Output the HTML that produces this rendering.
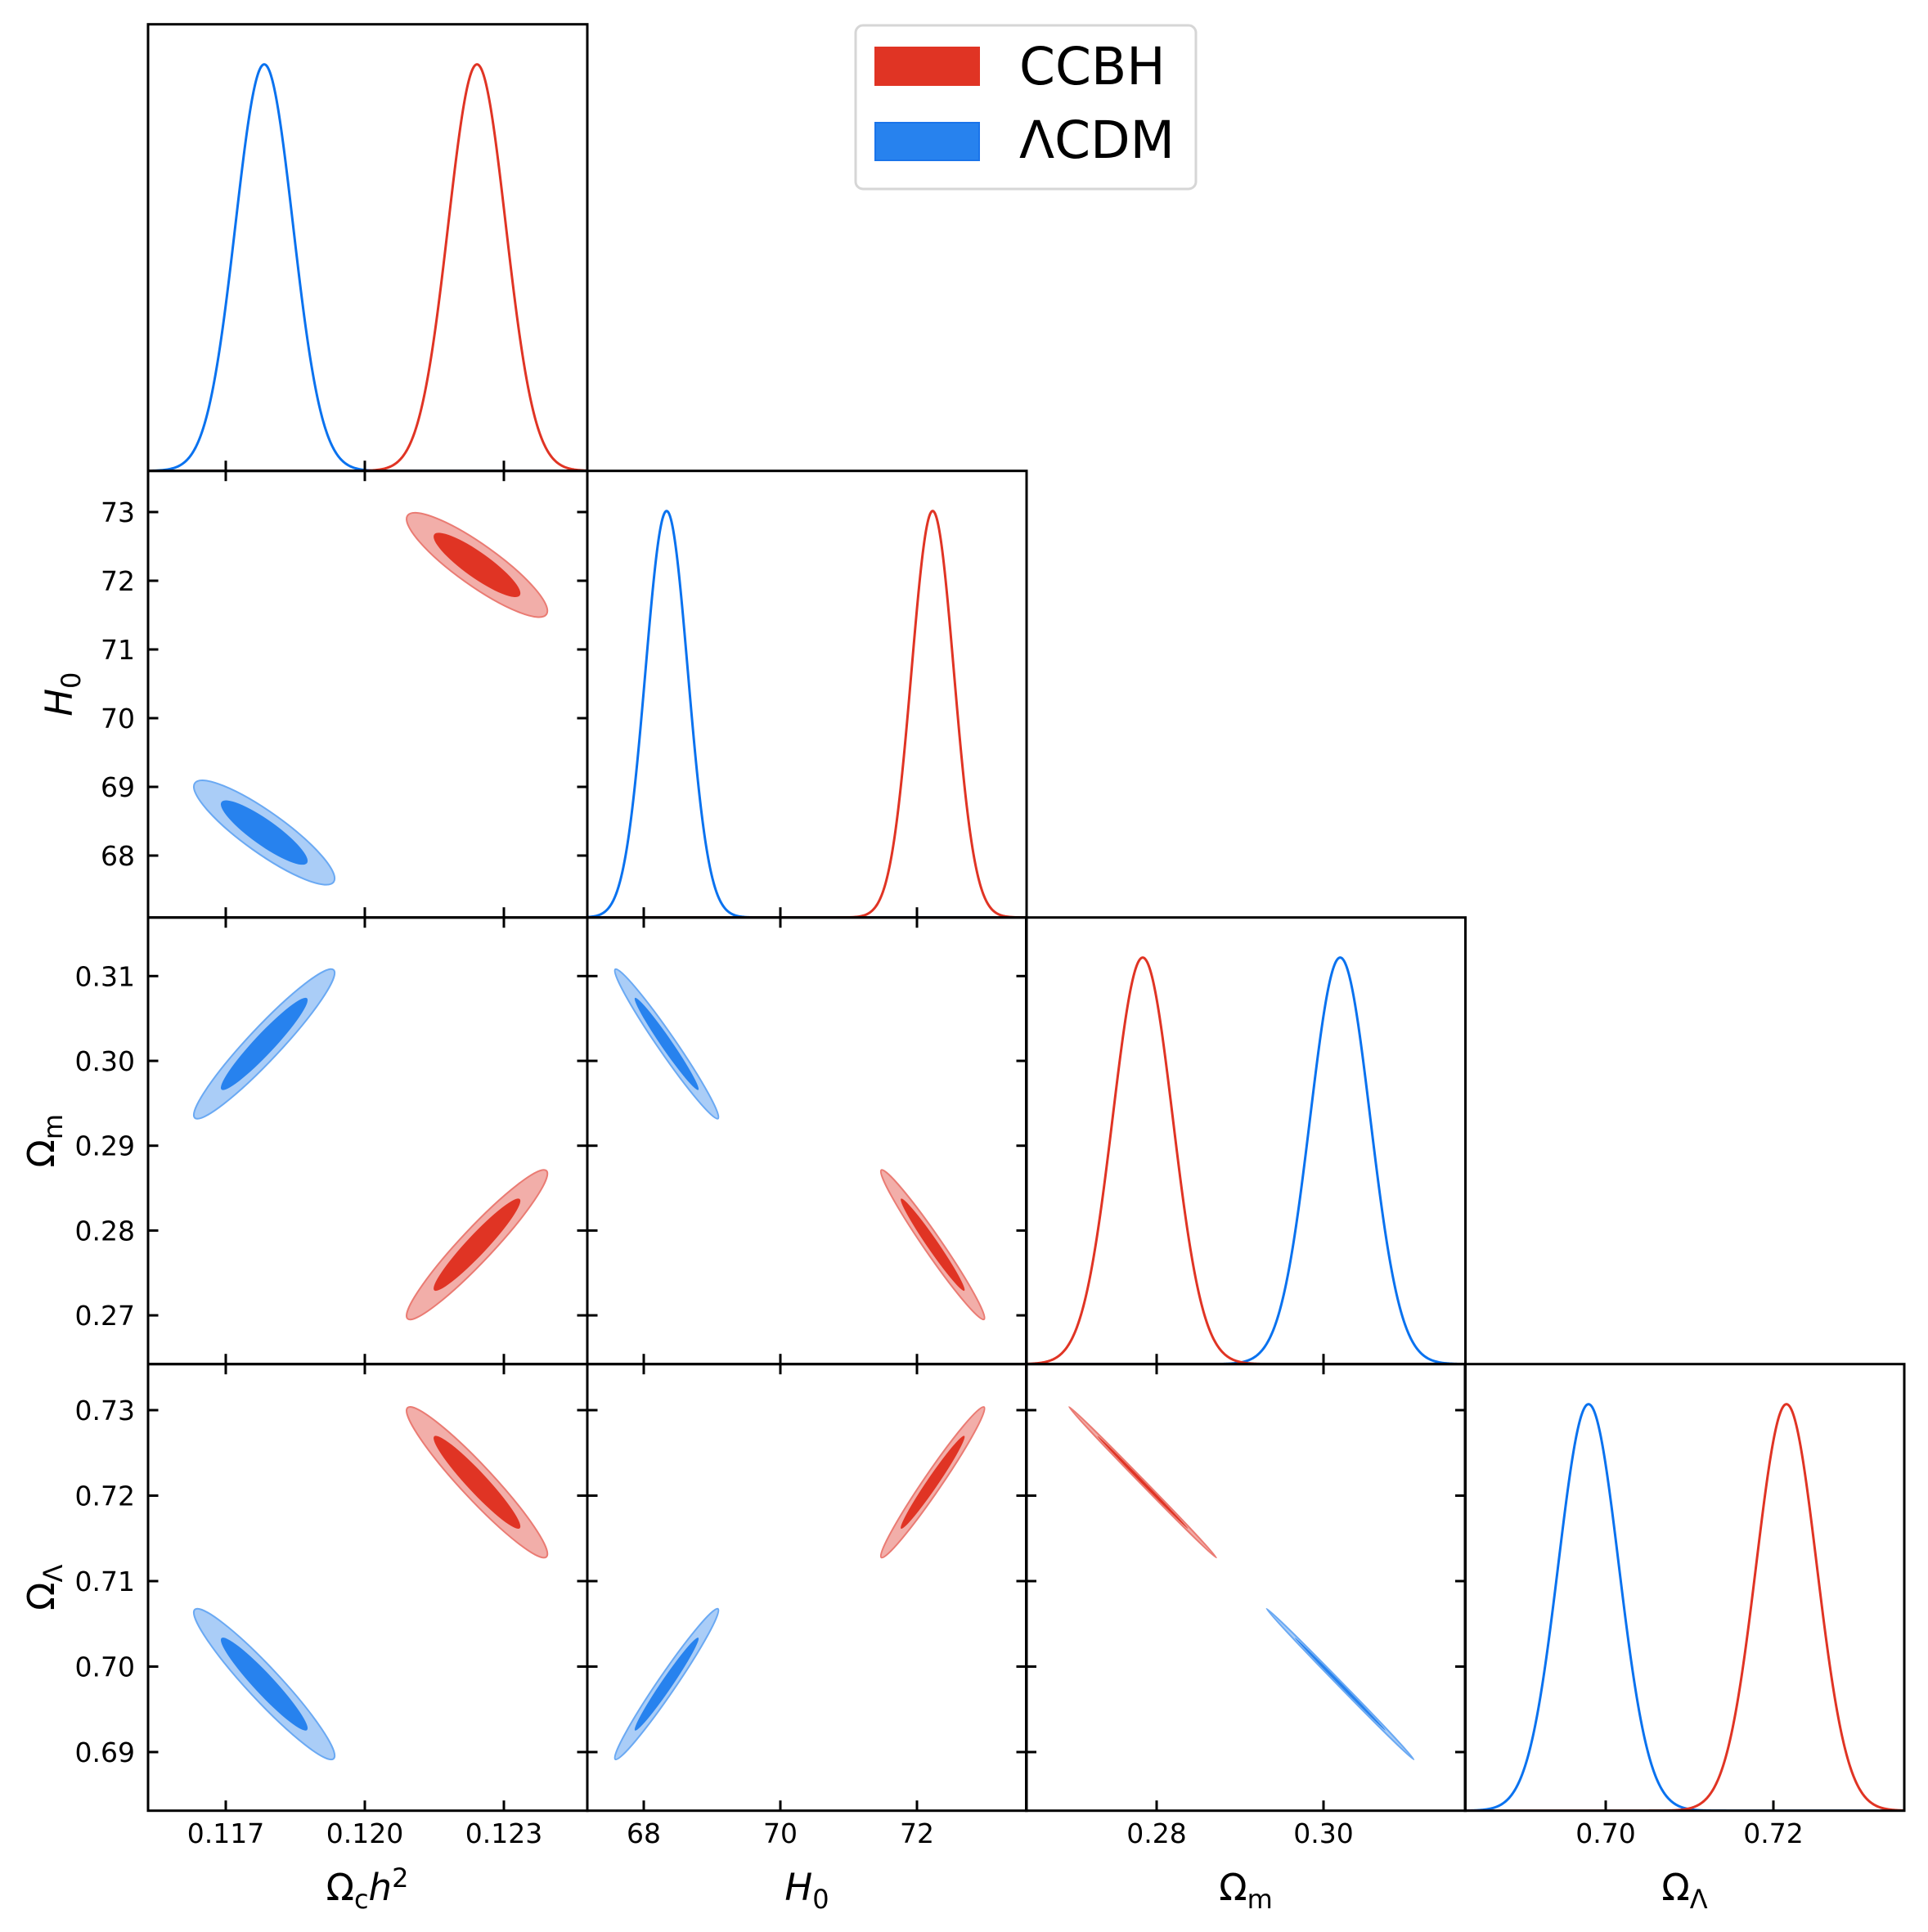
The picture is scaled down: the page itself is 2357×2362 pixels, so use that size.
<!DOCTYPE html>
<html><head><meta charset="utf-8"><style>
html,body{margin:0;padding:0;background:#fff}
svg{display:block;font-family:"DejaVu Sans","Liberation Sans",sans-serif}
</style></head><body>
<svg id="s" width="2357" height="2362" viewBox="0 0 2357 2362" xmlns="http://www.w3.org/2000/svg">
<rect width="2357" height="2362" fill="#fff"/>
<g id="content"></g>
<g id="frames"></g>
<g id="labels" font-size="33" fill="#000"></g>
<rect x="1046" y="31" width="416" height="200" rx="9" ry="9" fill="#fff" stroke="#d6d6d6" stroke-width="3"/>
<rect x="1069" y="57" width="129" height="48" fill="#e03424"/>
<rect x="1070" y="150" width="127" height="46" fill="#2782ee" stroke="#1a74ea" stroke-width="2"/>
<text x="1246" y="103" font-size="63">CCBH</text>
<text x="1246" y="193" font-size="63">ΛCDM</text>
</svg>
<script>
var NS="http://www.w3.org/2000/svg";
function el(tag,attrs,parent,txt){var e=document.createElementNS(NS,tag);for(var k in attrs)e.setAttribute(k,attrs[k]);if(txt!==undefined)e.textContent=txt;parent.appendChild(e);return e;}
var content=document.getElementById('content'),frames=document.getElementById('frames'),labels=document.getElementById('labels'),svg=document.getElementById('s');
var colL=[181,718,1254.5,1791],W=537,rowT=[29.7,575.7,1121.7,1667.7],H=546;
var colX=[function(v){return 446+(v-0.120)*56667},function(v){return 954+(v-70)*83.5},function(v){return 1414+(v-0.28)*10200},function(v){return 1963+(v-0.70)*10250}];
var colS=[56667,83.5,10200,10250];
var rowY=[null,function(v){return 710-(v-72)*84},function(v){return 1297-(v-0.30)*10370},function(v){return 1724-(v-0.73)*10450}];
var rowS=[0,84,10370,10450];
var mean={red:[0.12242,72.23,0.27833,0.72156],blue:[0.11783,68.335,0.3020,0.69795]};
var sig=[0.00062,0.31,0.0036,0.0036];
var rho={"0,1":-0.88,"0,2":0.95,"1,2":-0.978,"0,3":-0.95,"1,3":0.978,"2,3":-0.999};
var col={red:{line:"#e03424",inner:"#e03424",outer:"#f2aea9",edge:"#ea7b73"},blue:{line:"#0a72ef",inner:"#2782ee",outer:"#aacdf7",edge:"#6aa9f3"}};
var defs=el('defs',{},svg);
for(var i=0;i<4;i++)for(var j=i;j<4;j++){var cp=el('clipPath',{id:'c'+i+'_'+j},defs);el('rect',{x:colL[i],y:rowT[j],width:W,height:H},cp);}
for(var i=0;i<4;i++){
 var g=el('g',{'clip-path':'url(#c'+i+'_'+i+')'},content);
 ['blue','red'].forEach(function(m){
  var mu=colX[i](mean[m][i]),s=sig[i]*colS[i],base=rowT[i]+H,pk=rowT[i]+49,d='';
  for(var x=colL[i];x<=colL[i]+W;x+=1){var y=base-(base-pk)*Math.exp(-0.5*Math.pow((x-mu)/s,2));d+=(d?'L':'M')+x.toFixed(1)+' '+y.toFixed(2);}
  el('path',{d:d,fill:'none',stroke:col[m].line,'stroke-width':3},g);
 });
}
for(var i=0;i<4;i++)for(var j=i+1;j<4;j++){
 var g=el('g',{'clip-path':'url(#c'+i+'_'+j+')'},content);
 ['red','blue'].forEach(function(m){
  var cx=colX[i](mean[m][i]),cy=rowY[j](mean[m][j]);
  var sx=sig[i]*colS[i],sy=sig[j]*rowS[j],r=-rho[i+','+j];
  var a=sx*sx,b=sy*sy,c=r*sx*sy;
  var th=0.5*Math.atan2(2*c,a-b);
  var q=Math.sqrt((a-b)*(a-b)/4+c*c);
  var l1=(a+b)/2+q,l2=Math.max((a+b)/2-q,0.3);
  var deg=th*180/Math.PI;
  [[2.45,col[m].outer,col[m].edge],[1.51,col[m].inner,'none']].forEach(function(L){
   el('ellipse',{cx:cx,cy:cy,rx:L[0]*Math.sqrt(l1),ry:L[0]*Math.sqrt(l2),transform:'rotate('+deg+' '+cx+' '+cy+')',fill:L[1],stroke:L[2],'stroke-width':2},g);
  });
 });
}
var colT=[[0.117,0.120,0.123],[68,70,72],[0.28,0.30],[0.70,0.72]];
var colLab=[["0.117","0.120","0.123"],["68","70","72"],["0.28","0.30"],["0.70","0.72"]];
var rowTk=[null,[68,69,70,71,72,73],[0.27,0.28,0.29,0.30,0.31],[0.69,0.70,0.71,0.72,0.73]];
var rowLab=[null,["68","69","70","71","72","73"],["0.27","0.28","0.29","0.30","0.31"],["0.69","0.70","0.71","0.72","0.73"]];
var TL=12.5;
for(var i=0;i<4;i++)for(var j=i;j<4;j++){
 var x0=colL[i],y0=rowT[j],x1=x0+W,y1=y0+H;
 colT[i].forEach(function(v){var x=colX[i](v);
  el('line',{x1:x,y1:y1,x2:x,y2:y1-TL,stroke:'#000','stroke-width':3},frames);
  if(j!==i)el('line',{x1:x,y1:y0,x2:x,y2:y0+TL,stroke:'#000','stroke-width':3},frames);
 });
 if(j!==i)rowTk[j].forEach(function(v){var y=rowY[j](v);
  el('line',{x1:x0,y1:y,x2:x0+TL,y2:y,stroke:'#000','stroke-width':3},frames);
  el('line',{x1:x1,y1:y,x2:x1-TL,y2:y,stroke:'#000','stroke-width':3},frames);
 });
 el('rect',{x:x0,y:y0,width:W,height:H,fill:'none',stroke:'#000','stroke-width':3},frames);
}
for(var i=0;i<4;i++)colT[i].forEach(function(v,k){el('text',{x:colX[i](v),y:2253,'text-anchor':'middle'},labels,colLab[i][k]);});
for(var j=1;j<4;j++)rowTk[j].forEach(function(v,k){el('text',{x:165,y:rowY[j](v)+12,'text-anchor':'end'},labels,rowLab[j][k]);});
function mk(parent,x,y,rot,parts){
 var t=el('text',{x:x,y:y,'text-anchor':'middle','font-size':45},parent);
 if(rot)t.setAttribute('transform','rotate(-90 '+x+' '+y+')');
 parts.forEach(function(p){var s=el('tspan',{},t,p[0]);if(p[1])s.setAttribute('font-style','italic');if(p[2]){s.setAttribute('font-size',p[2]);s.setAttribute('dy',p[3]);}});
}
var L=[
 [["Ω"],["c",0,32,10],["h",1,45,-10],["2",0,32,-16]],
 [["H",1],["0",0,32,10]],
 [["Ω"],["m",0,32,10]],
 [["Ω"],["Λ",0,32,10]]
];
var cxs=[449,986.5,1523,2059.5];
for(var i=0;i<4;i++)mk(labels,cxs[i],2323,false,L[i]);
var cys=[0,848.7,1394.7,1940.7];
var lx=[0,88,66,66];
for(var j=1;j<4;j++)mk(labels,lx[j],cys[j],true,L[j]);
</script>
</body></html>
